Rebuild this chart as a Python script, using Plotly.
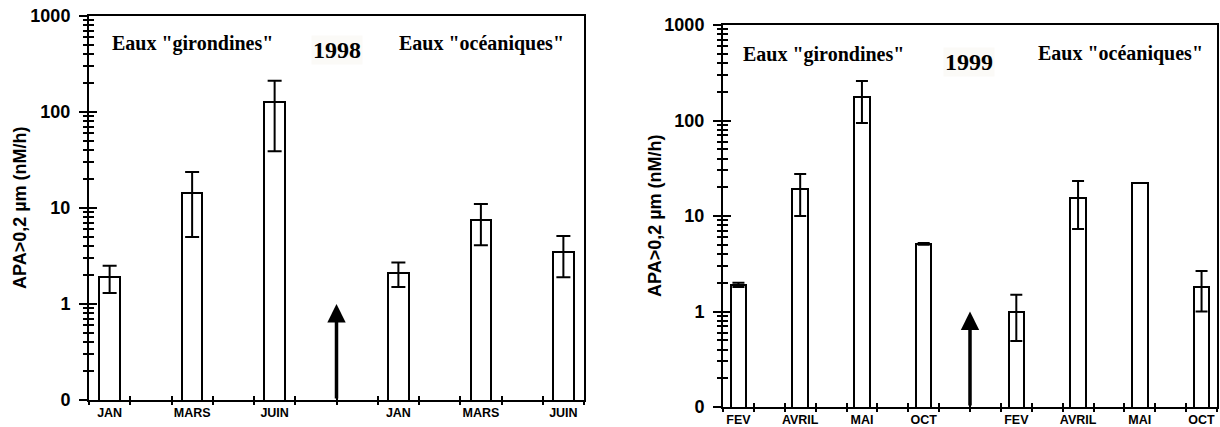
import math
import plotly.graph_objects as go

# ---- 1998 : APA > 0.2 µm (nM/h), mean with min / max ----
months_1998_gir = ["JAN", "MARS", "JUIN"]
apa_1998_gir = [1.9, 14.3, 127]
apa_1998_gir_hi = [2.5, 23.7, 212]
apa_1998_gir_lo = [1.3, 5.0, 39]

months_1998_oce = ["JAN", "MARS", "JUIN"]
apa_1998_oce = [2.1, 7.5, 3.5]
apa_1998_oce_hi = [2.7, 11.0, 5.1]
apa_1998_oce_lo = [1.5, 4.1, 1.9]

# ---- 1999 ----
months_1999_gir = ["FEV", "AVRIL", "MAI", "OCT"]
apa_1999_gir = [1.9, 19.2, 176, 5.1]
apa_1999_gir_hi = [2.0, 27.5, 259, 5.2]
apa_1999_gir_lo = [1.8, 10.0, 94, 5.0]

months_1999_oce = ["FEV", "AVRIL", "MAI", "OCT"]
apa_1999_oce = [0.99, 15.4, 22.2, 1.8]
apa_1999_oce_hi = [1.5, 23.3, None, 2.65]
apa_1999_oce_lo = [0.49, 7.3, None, 1.0]

# arrow separating the two water masses (points up to this value)
arrow_tip = 1.0

y_tick_values = [0.1, 1, 10, 100, 1000]
y_tick_labels = ["0", "1", "10", "100", "1000"]

W, H = 1220, 427
BLACK = "black"
SANS = "Liberation Sans"
SERIF = "Liberation Serif"

minor_vals = [m * 10 ** e for e in range(-1, 3) for m in range(2, 10)]

fig = go.Figure()
axis_counter = [2]  # axes 1 and 2 are the two panels' main axes


def xdom(a, b):
    return [a / W, b / W]


def ydom(top, bottom):
    return [1 - bottom / H, 1 - top / H]


def err_up(vals, hi):
    return [None if h is None else h - v for v, h in zip(vals, hi)]


def err_down(vals, lo):
    return [None if l is None else v - l for v, l in zip(vals, lo)]


def tick_layer(letter, base, anchor, rng, vals, side, length, width, log=False):
    """Extra overlaid axis that only draws a set of tick marks."""
    axis_counter[0] += 1
    n = axis_counter[0]
    spec = dict(
        overlaying=base, anchor=anchor, side=side, range=rng,
        showline=False, showgrid=False, zeroline=False, automargin=False,
        tickmode="array", tickvals=vals, ticks=("inside" if length < 0 else "outside"),
        ticklen=abs(length), tickwidth=width, tickcolor=BLACK,
        showticklabels=False,
    )
    if log:
        spec["type"] = "log"
    fig.layout[f"{letter}axis{n}"] = spec
    # an empty trace keeps the overlaid axis attached to a subplot
    if letter == "x":
        fig.add_trace(go.Scatter(x=[], y=[], xaxis=f"x{n}", yaxis=anchor,
                                 showlegend=False, hoverinfo="skip"))
    else:
        fig.add_trace(go.Scatter(x=[], y=[], xaxis=anchor, yaxis=f"y{n}",
                                 showlegend=False, hoverinfo="skip"))


def add_panel(idx, gir, gir_v, gir_hi, gir_lo, oce, oce_v, oce_hi, oce_lo,
              dom_x, dom_y, cap, label, lab_pos, tit_x):
    n = len(gir)
    total = 4 * n
    arrow_x = 2 * n
    pos = [2 * i + 0.5 for i in range(n)] + [2 * n + 1 + 2 * i + 0.5 for i in range(len(oce))]
    vals = gir_v + oce_v
    hi = gir_hi + oce_hi
    lo = gir_lo + oce_lo
    key = "" if idx == 1 else str(idx)
    xa, ya = "x" + key, "y" + key
    fig.add_trace(go.Bar(
        x=pos, y=vals, width=0.5, xaxis=xa, yaxis=ya,
        marker=dict(color="white", line=dict(color=BLACK, width=2)),
        error_y=dict(type="data", symmetric=False,
                     array=err_up(vals, hi), arrayminus=err_down(vals, lo),
                     color=BLACK, thickness=2, width=cap),
        showlegend=False, hoverinfo="skip",
    ))

    boundaries = list(range(total + 1))
    fig.layout["xaxis" + key] = dict(
        domain=xdom(*dom_x), anchor=ya, range=[0, total],
        showline=True, linecolor=BLACK, linewidth=2, mirror=True,
        showgrid=False, zeroline=False, automargin=False,
        tickmode="array", tickvals=pos, ticktext=gir + oce, ticks="",
        tickfont=dict(family=SANS, size=12.5, color=BLACK, weight="bold"),
    )
    fig.layout["yaxis" + key] = dict(
        domain=ydom(*dom_y), anchor=xa, type="log", range=[-1, 3],
        showline=True, linecolor=BLACK, linewidth=2, mirror=True,
        showgrid=False, zeroline=False, automargin=False,
        tickmode="array", tickvals=y_tick_values, ticktext=y_tick_labels,
        ticks="outside", ticklen=8, tickwidth=2, tickcolor=BLACK,
        ticklabelstandoff=5,
        tickfont=dict(family=SANS, size=18, color=BLACK, weight="bold"),
    )

    # tick marks crossing the axis lines
    tick_layer("x", xa, ya, [0, total], boundaries, "bottom", 4, 1.5)
    tick_layer("x", xa, ya, [0, total], boundaries, "bottom", -4, 1.5)
    tick_layer("y", ya, xa, [-1, 3], y_tick_values, "left", -8, 2, log=True)
    tick_layer("y", ya, xa, [-1, 3], minor_vals, "left", 5, 1.5, log=True)
    tick_layer("y", ya, xa, [-1, 3], minor_vals, "left", -5, 1.5, log=True)

    # arrow marking the boundary between the two water masses
    fig.add_annotation(
        x=arrow_x, y=math.log10(arrow_tip), ax=arrow_x, ay=-1,
        xref=xa, yref=ya, axref=xa, ayref=ya, text="",
        showarrow=True, arrowhead=2, arrowsize=1.05, arrowwidth=3.5,
        arrowcolor=BLACK, standoff=0,
    )

    (gx, gy), (yx, yy), (ox, oy) = lab_pos
    for txt, (px, py), size, bg in (
        ('Eaux "girondines"', (gx, gy), 20, None),
        (label, (yx, yy), 24, "#fbfaf7"),
        ('Eaux "océaniques"', (ox, oy), 20, None),
    ):
        fig.add_annotation(
            x=px / W, y=1 - py / H, xref="paper", yref="paper",
            text=txt, showarrow=False, xanchor="center", yanchor="middle",
            font=dict(family=SERIF, size=size, color=BLACK, weight="bold"),
            bgcolor=bg,
        )

    fig.add_annotation(
        x=tit_x / W, y=1 - (dom_y[0] + dom_y[1]) / 2 / H,
        xref="paper", yref="paper", text="APA>0,2 µm (nM/h)",
        textangle=-90, showarrow=False, xanchor="center", yanchor="middle",
        font=dict(family=SANS, size=18, color=BLACK, weight="bold"),
    )


add_panel(1, months_1998_gir, apa_1998_gir, apa_1998_gir_hi, apa_1998_gir_lo,
          months_1998_oce, apa_1998_oce, apa_1998_oce_hi, apa_1998_oce_lo,
          (89, 584), (16, 400), 7, "1998",
          ((192.5, 43), (337, 50), (481.5, 43)), 20)

add_panel(2, months_1999_gir, apa_1999_gir, apa_1999_gir_hi, apa_1999_gir_lo,
          months_1999_oce, apa_1999_oce, apa_1999_oce_hi, apa_1999_oce_lo,
          (723, 1217), (25, 407), 6, "1999",
          ((823.5, 54), (969, 62), (1120, 53)), 655)

fig.update_layout(
    width=W, height=H, margin=dict(l=0, r=0, t=0, b=0),
    paper_bgcolor="white", plot_bgcolor="white",
    bargap=0, showlegend=False,
)

fig.write_html("out.html")
